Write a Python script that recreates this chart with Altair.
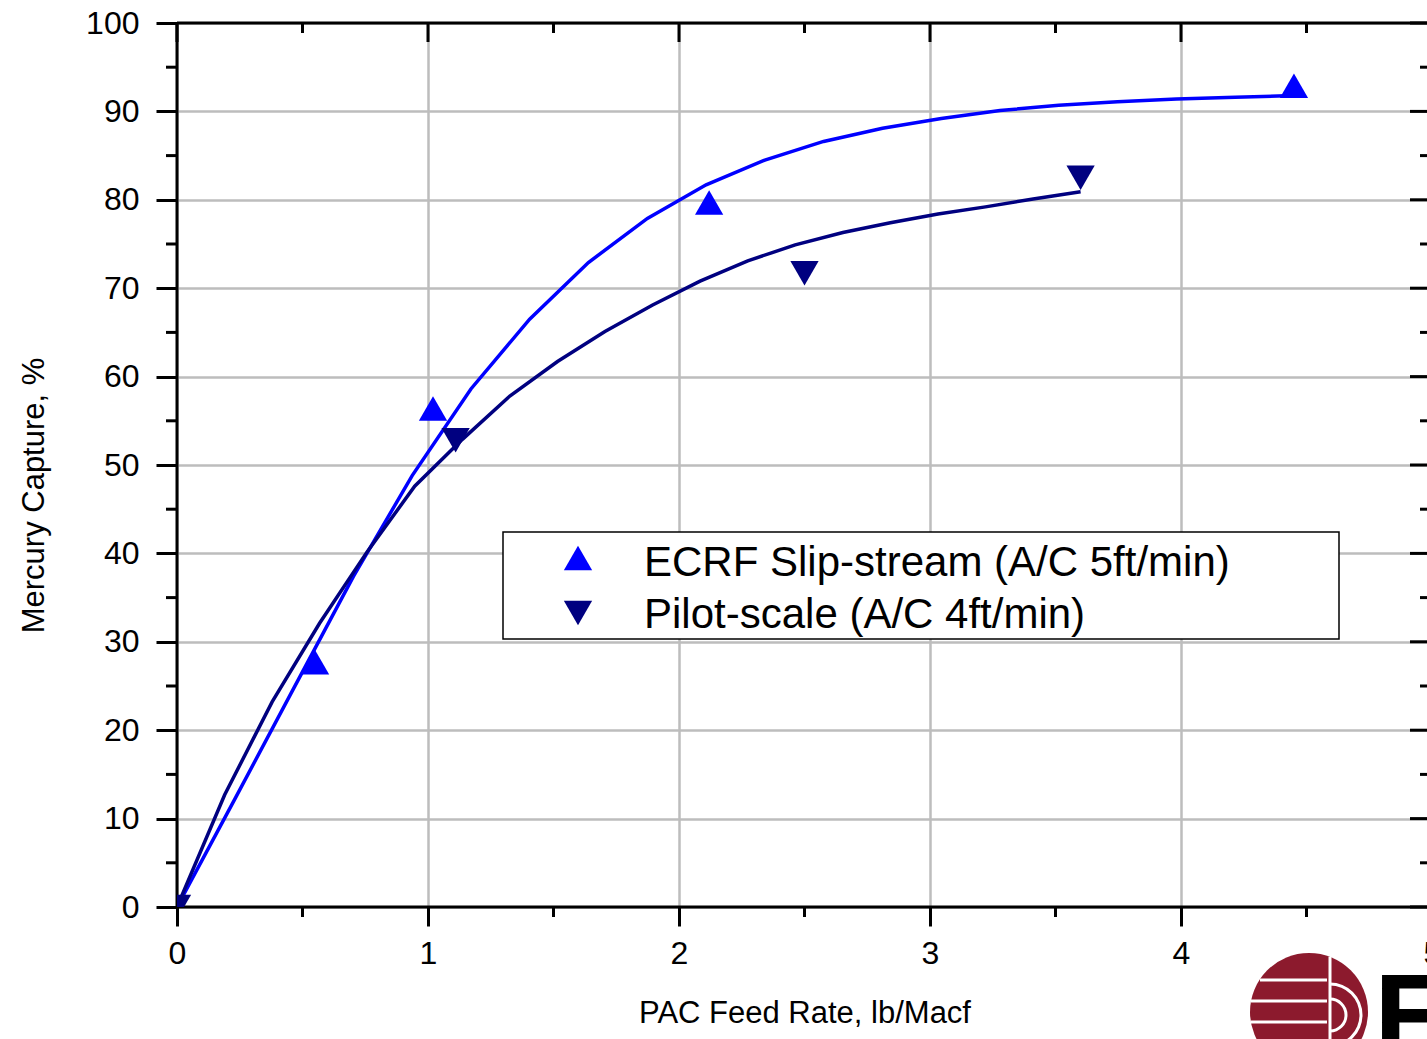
import math

import altair as alt
import pandas as pd

# ---------------------------------------------------------------- data
series_names = ["ECRF Slip-stream (A/C 5ft/min)", "Pilot-scale (A/C 4ft/min)"]
series_colors = ["#0000FF", "#000080"]
series_shapes = ["triangle-up", "triangle-down"]

# measured mercury capture
ecrf_x = [0.0, 0.55, 1.02, 2.12, 4.45]
ecrf_y = [0.0, 27.7, 56.4, 79.7, 92.9]
pilot_x = [0.0, 1.11, 2.5, 3.6]
pilot_y = [0.0, 52.8, 71.7, 82.5]

# fitted curves through each data set
ecrf_fit_x = [0.0, 0.234, 0.468, 0.703, 0.937, 1.171, 1.405, 1.639, 1.874, 2.108,
              2.342, 2.576, 2.811, 3.045, 3.279, 3.513, 3.747, 3.982, 4.216, 4.45]
ecrf_fit_y = [0.0, 12.4, 24.9, 37.4, 48.8, 58.6, 66.5, 72.9, 77.9, 81.7,
              84.5, 86.6, 88.1, 89.2, 90.1, 90.7, 91.1, 91.4, 91.6, 91.8]
pilot_fit_x = [0.0, 0.19, 0.379, 0.568, 0.758, 0.947, 1.137, 1.326, 1.516, 1.705,
               1.895, 2.084, 2.274, 2.463, 2.653, 2.842, 3.032, 3.221, 3.411, 3.6]
pilot_fit_y = [0.0, 12.7, 23.2, 32.1, 40.2, 47.6, 52.9, 57.8, 61.7, 65.1,
               68.1, 70.8, 73.1, 74.9, 76.3, 77.4, 78.4, 79.2, 80.1, 80.9]

x_major = [0, 1, 2, 3, 4, 5]
x_minor = [0.5, 1.5, 2.5, 3.5, 4.5]
y_major = list(range(0, 101, 10))
y_minor = list(range(5, 100, 10))

# ---------------------------------------------------------------- frames
points = pd.concat([
    pd.DataFrame({"x": ecrf_x, "y": ecrf_y, "series": series_names[0]}),
    pd.DataFrame({"x": pilot_x, "y": pilot_y, "series": series_names[1]}),
])
fits = pd.concat([
    pd.DataFrame({"x": ecrf_fit_x, "y": ecrf_fit_y, "series": series_names[0]}),
    pd.DataFrame({"x": pilot_fit_x, "y": pilot_fit_y, "series": series_names[1]}),
])
one_row = pd.DataFrame({"k": [0]})

W, H = 1255, 884
FONT = "Liberation Sans"

xs = alt.Scale(domain=[0, 5], nice=False, zero=False)
ys = alt.Scale(domain=[0, 100], nice=False, zero=False)
color_scale = alt.Scale(domain=series_names, range=series_colors)
shape_scale = alt.Scale(domain=series_names, range=series_shapes)

GRID = "#bdbdbd"

x_axis = alt.Axis(
    values=x_major, format="d", title="PAC Feed Rate, lb/Macf",
    domain=False, grid=True, gridColor=GRID, gridWidth=2.5,
    ticks=True, tickSize=19, tickWidth=3, tickColor="black",
    labelFont=FONT, labelFontSize=32, labelColor="black", labelPadding=12,
    labelFlush=False, labelOverlap=False,
    titleFont=FONT, titleFontSize=31, titleFontWeight="normal", titleColor="black",
    titleX=W / 2, titleY=115, titleAlign="center", titleBaseline="alphabetic",
)
y_axis = alt.Axis(
    values=y_major, format="d", title="Mercury Capture, %",
    domain=False, grid=True, gridColor=GRID, gridWidth=2.5,
    ticks=True, tickSize=21, tickWidth=3, tickColor="black",
    labelFont=FONT, labelFontSize=32, labelColor="black", labelPadding=17,
    labelFlush=False, labelOverlap=False,
    titleFont=FONT, titleFontSize=31, titleFontWeight="normal", titleColor="black",
    titleAngle=270, titleX=-134, titleY=472, titleAlign="center",
    titleBaseline="alphabetic",
)


def X(field):
    return alt.X(field, scale=xs, axis=x_axis)


def Y(field):
    return alt.Y(field, scale=ys, axis=y_axis)


# fitted curves
curves = alt.Chart(fits).mark_line(strokeWidth=3.5, clip=True).encode(
    x=X("x:Q"),
    y=Y("y:Q"),
    color=alt.Color("series:N", scale=color_scale, legend=None),
    detail="series:N",
)

# measured points
markers = alt.Chart(points).mark_point(filled=True, size=800, opacity=1, clip=True).encode(
    x=X("x:Q"),
    y=Y("y:Q"),
    color=alt.Color("series:N", scale=color_scale, legend=None),
    shape=alt.Shape("series:N", scale=shape_scale, legend=None),
)

# plot frame
frame_style = dict(color="black", strokeWidth=3)
frame = alt.layer(
    alt.Chart(one_row).mark_rule(**frame_style).encode(
        x=alt.value(0), x2=alt.value(W), y=alt.value(0)),
    alt.Chart(one_row).mark_rule(**frame_style).encode(
        x=alt.value(0), x2=alt.value(W), y=alt.value(H)),
    alt.Chart(one_row).mark_rule(**frame_style).encode(
        x=alt.value(0), y=alt.value(0), y2=alt.value(H)),
    alt.Chart(one_row).mark_rule(**frame_style).encode(
        x=alt.value(W), y=alt.value(0), y2=alt.value(H)),
)

# minor ticks outside bottom/left, all ticks inside top/right
xmaj = pd.DataFrame({"x": x_major})
xmin = pd.DataFrame({"x": x_minor})
ymaj = pd.DataFrame({"y": y_major})
ymin = pd.DataFrame({"y": y_minor})


def xtick(df, y0, y1):
    return alt.Chart(df).mark_rule(color="black", strokeWidth=3).encode(
        x=X("x:Q"), y=alt.value(y0), y2=alt.value(y1))


def ytick(df, x0, x1):
    return alt.Chart(df).mark_rule(color="black", strokeWidth=3).encode(
        y=Y("y:Q"), x=alt.value(x0), x2=alt.value(x1))


ticks = alt.layer(
    xtick(xmin, H, H + 10),
    xtick(xmaj, 0, 19),
    xtick(xmin, 0, 10),
    ytick(ymin, -11, 0),
    ytick(ymaj, W - 22, W),
    ytick(ymin, W - 12, W),
)

# legend box
lg_left, lg_top, lg_right, lg_bottom = 326, 509, 1162, 616
legend_box = alt.Chart(one_row).mark_rect(
    fill="white", stroke="black", strokeWidth=1.5).encode(
    x=alt.value(lg_left), x2=alt.value(lg_right),
    y=alt.value(lg_top), y2=alt.value(lg_bottom))
legend_items = []
for i, (name, col, shp) in enumerate(zip(series_names, series_colors, series_shapes)):
    legend_items.append(
        alt.Chart(one_row).mark_point(filled=True, size=800, opacity=1, shape=shp, color=col)
        .encode(x=alt.value(401), y=alt.value(535 + 55 * i)))
    legend_items.append(
        alt.Chart(one_row).mark_text(
            text=name, font=FONT, fontSize=42, align="left", baseline="alphabetic",
            color="black")
        .encode(x=alt.value(467), y=alt.value(553 + 52 * i)))

# organisation logo in the lower right corner
logo_red = "#8C1A2D"
logo = [
    alt.Chart(one_row).mark_point(filled=True, shape="circle", size=118 ** 2,
                                  opacity=1, color=logo_red)
    .encode(x=alt.value(1132), y=alt.value(989)),
]
for yy, x0 in [(957, 1083), (978, 1074), (999, 1074)]:
    logo.append(alt.Chart(one_row).mark_rule(color="white", strokeWidth=3)
                .encode(x=alt.value(x0), x2=alt.value(1150), y=alt.value(yy)))
logo.append(alt.Chart(one_row).mark_rule(color="white", strokeWidth=3)
            .encode(x=alt.value(1153), y=alt.value(934), y2=alt.value(1030)))
for r in (31, 16):
    logo.append(alt.Chart(one_row).mark_arc(
        theta=0, theta2=math.pi, radius=r + 1.5, radius2=r - 1.5, color="white")
        .encode(x=alt.value(1153), y=alt.value(992)))
logo.append(alt.Chart(one_row).mark_text(
    text="E", font=FONT, fontSize=120, fontWeight="bold", align="left",
    baseline="alphabetic", color="black")
    .encode(x=alt.value(1197), y=alt.value(1035)))

chart = alt.layer(
    curves, frame, ticks, markers, legend_box, *legend_items, *logo,
).properties(
    width=W, height=H,
    autosize=alt.AutoSizeParams(type="none"),
    padding={"left": 177, "top": 23, "right": -5, "bottom": 132},
    background="white",
).configure_view(stroke="transparent")

chart.save("out.html", embed_options={"renderer": "svg", "actions": False})
